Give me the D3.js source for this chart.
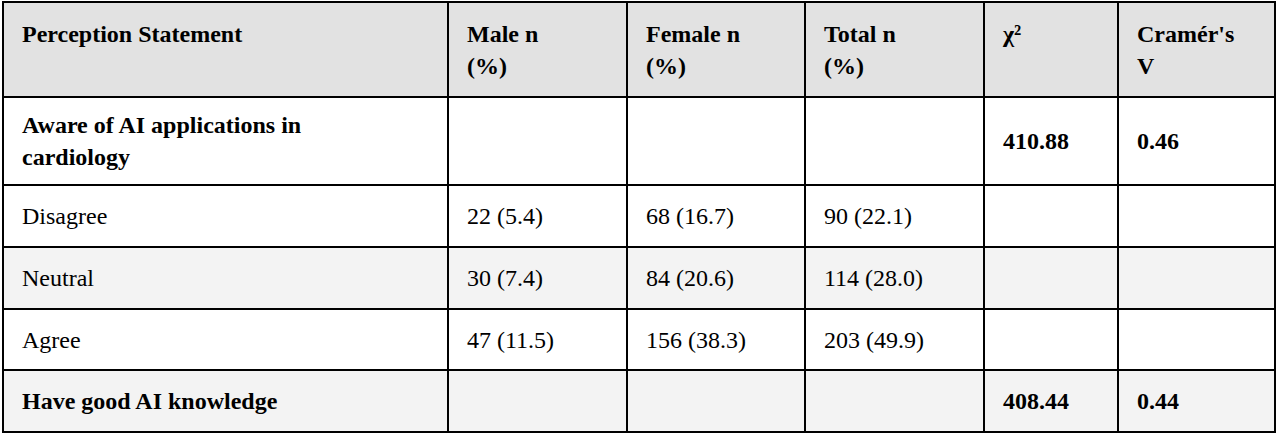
<!DOCTYPE html><html><head><meta charset="utf-8"><script src="https://cdn.jsdelivr.net/npm/d3@7"></script>
<style>body{margin:0;background:#fff} text{font-family:"Liberation Serif","Times New Roman",Times,serif}</style></head><body><svg id="c" width="1280" height="436"></svg><script>
const headers=[["Perception Statement"],["Male n","(%)"],["Female n","(%)"],["Total n","(%)"],["χ²"],["Cramér's","V"]];
const statements=[["Aware of AI applications in","cardiology"],["Disagree"],["Neutral"],["Agree"],["Have good AI knowledge"]];
const male=["","22 (5.4)","30 (7.4)","47 (11.5)",""];
const female=["","68 (16.7)","84 (20.6)","156 (38.3)",""];
const total=["","90 (22.1)","114 (28.0)","203 (49.9)",""];
const chi=["410.88","","","","408.44"];
const cramer=["0.46","","","","0.44"];
const boldRow=[true,false,false,false,true];
const fills=["#fff","#fff","#f3f3f3","#fff","#f3f3f3"];
const colX=[3,448,627,805,984,1118,1275];
const rowY=[2,97,185,247,309,370,432];
const svg=d3.select("#c");
const rows=[headers].concat(statements.map((s,i)=>[s,[male[i]],[female[i]],[total[i]],[chi[i]],[cramer[i]]]));
rows.forEach((r,ri)=>{
  const y0=rowY[ri],y1=rowY[ri+1];
  const fill=ri===0?"#e2e2e2":fills[ri-1];
  const bold=ri===0||boldRow[ri-1];
  svg.append("rect").attr("x",colX[0]).attr("y",y0).attr("width",colX[6]-colX[0]).attr("height",y1-y0).attr("fill",fill);
  r.forEach((lines,ci)=>{
    const n=lines.length;
    const firstBase=(ri===0)?42:(y0+y1)/2+8-(n-1)*16;
    const t=svg.append("text").style("font-family","'Liberation Serif', serif").attr("font-size",24).attr("font-weight",bold?"bold":"normal").attr("fill","#000");
    lines.forEach((l,li)=>t.append("tspan").attr("x",colX[ci]+19).attr("y",firstBase+li*32).text(l));
  });
});
rowY.forEach(y=>svg.append("line").attr("x1",colX[0]-1).attr("x2",colX[6]+1).attr("y1",y).attr("y2",y).attr("stroke","#000").attr("stroke-width",2));
colX.forEach(x=>svg.append("line").attr("x1",x).attr("x2",x).attr("y1",rowY[0]).attr("y2",rowY[6]).attr("stroke","#000").attr("stroke-width",2));
</script></body></html>
